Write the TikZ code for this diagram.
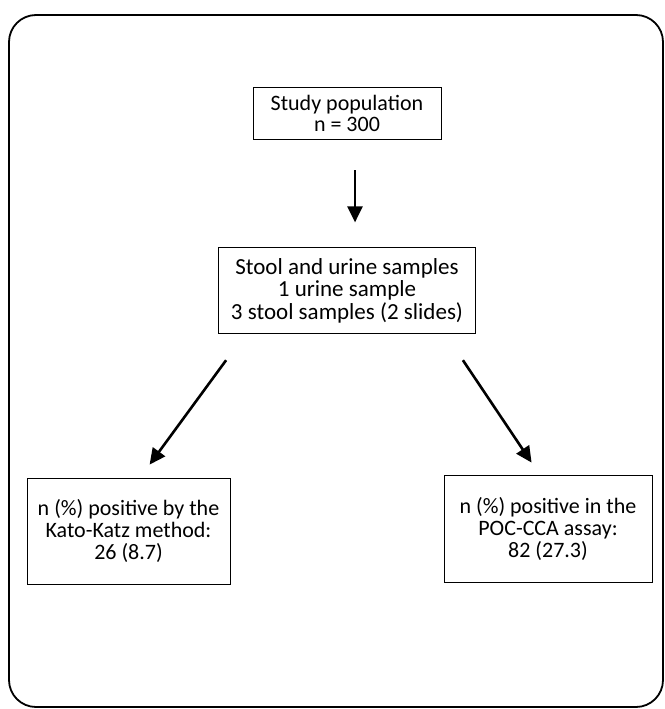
\documentclass[tikz,border=0pt]{standalone}
\usepackage{fontspec}
\setmainfont{Carlito}
\usetikzlibrary{arrows.meta,positioning}

\begin{document}
\begin{tikzpicture}[
  x=1pt,y=-1pt,
  font=\fontsize{23}{22.5}\selectfont,
  box/.style={draw,line width=0.8pt,align=center,inner sep=0pt},
  result/.style={box,font=\fontsize{22}{22}\selectfont},
  arrow/.style={-{Triangle[width=15pt,length=16pt]},line width=2.6pt},
  frame/.style={draw,line width=1.8pt,rounded corners=27pt},
]
  \useasboundingbox (0,0) rectangle (664,709);
  \draw[frame] (9,15) rectangle (663,707);

  \node[box,font=\fontsize{22}{21}\selectfont,minimum width=188pt,minimum height=52pt] (population) at (347,113) {Study population\\n = 300};
  \node[box,minimum width=257pt,minimum height=86pt,below=108pt of population.south,anchor=north] (samples) {Stool and urine samples\\1 urine sample\\3 stool samples (2 slides)};
  \node[result,minimum width=203pt,minimum height=106pt] (katokatz) at (128.5,531) {n (\%) positive by the\\Kato-Katz method:\\26 (8.7)};
  \node[result,minimum width=208pt,minimum height=107pt] (pocca) at (548,528.5) {n (\%) positive in the\\POC-CCA assay:\\82 (27.3)};

  \draw[arrow,shorten <=31pt,shorten >=25pt] ([xshift=8pt]population.south) -- ([xshift=8pt]samples.north);
  \draw[arrow] ([shift={(8,26)}]samples.south west) -- ([shift={(123,-13)}]katokatz.north west);
  \draw[arrow] ([shift={(-13,26)}]samples.south east) -- ([shift={(88,-12)}]pocca.north west);
\end{tikzpicture}
\end{document}
